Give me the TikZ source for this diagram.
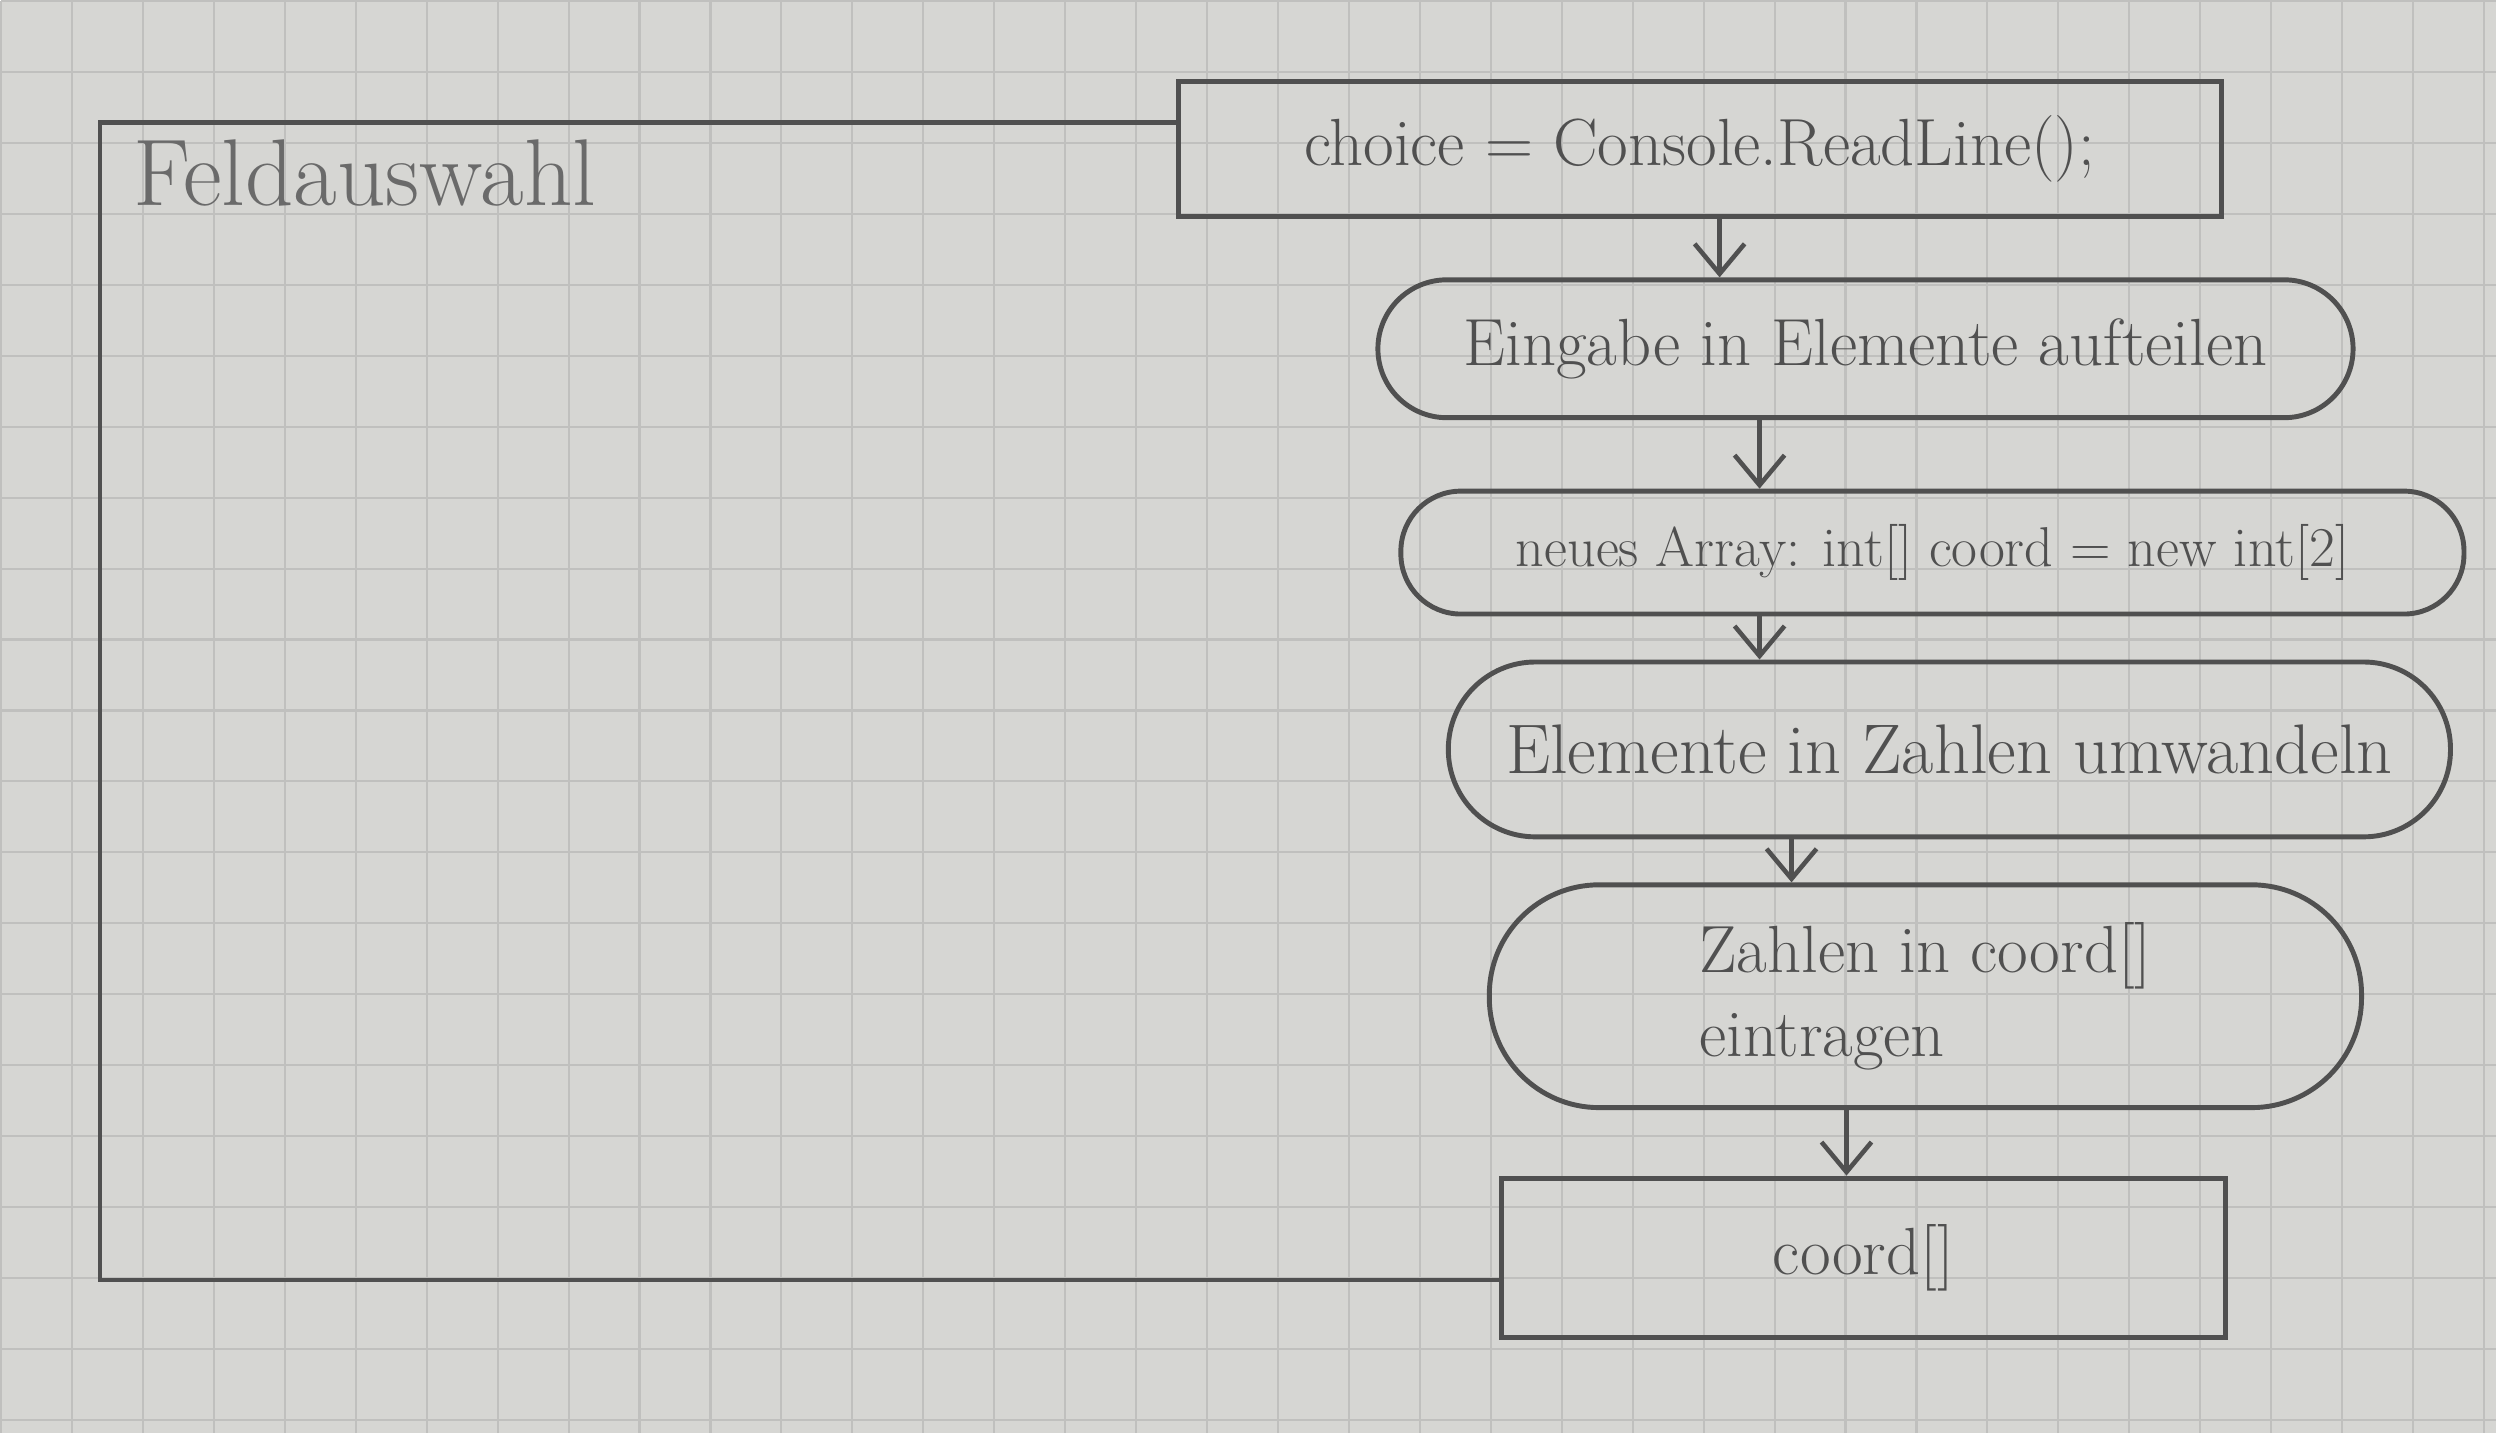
\documentclass[tikz,border=0pt]{standalone}
\usetikzlibrary{arrows.meta}
\definecolor{paper}{RGB}{214,214,211}
\definecolor{gridline}{RGB}{192,192,190}
\definecolor{pencil}{RGB}{80,80,80}
\begin{document}
\begin{tikzpicture}[proc/.style={draw=pencil, line width=1.4pt, text=pencil, inner sep=0pt, font=\fontsize{19}{24}\selectfont},
	act/.style={proc},
	flow/.style={draw=pencil, line width=1.3pt, -{Straight Barb[length=3mm,width=5mm]}},
	frame/.style={draw=pencil, line width=1.4pt}]
	% paper
	\fill[paper] (0,0) rectangle (24.97,-14.33);
	\draw[gridline, line width=0.6pt, step=0.71] (0,0) grid (24.97,-14.33);
	\useasboundingbox (0,0) rectangle (24.97,-14.33);

	\node[proc, minimum width=10.44cm, minimum height=1.35cm] at (17.0,-1.48) (choice) {choice = Console.ReadLine();};
	\node[act, rounded corners=6.9mm, minimum width=9.76cm, minimum height=1.38cm] at (18.66,-3.48) (split) {Eingabe in Elemente aufteilen};
	\node[act, rounded corners=6mm, minimum width=10.64cm, minimum height=1.23cm, font=\fontsize{16}{20}\selectfont] at (19.33,-5.52) (array) {neues Array: int[] coord = new int[2]};
	\node[act, rounded corners=8.7mm, minimum width=10.03cm, minimum height=1.75cm, font=\fontsize{20}{24}\selectfont] at (19.5,-7.49) (convert) {Elemente in Zahlen umwandeln};
	\node[act, rounded corners=11mm, minimum width=8.73cm, minimum height=2.23cm, align=left] at (19.26,-9.96) (fill) {Zahlen in coord[]\\eintragen};
	\node[proc, minimum width=7.24cm, minimum height=1.6cm] at (18.64,-12.58) (coord) {coord[]};

	\draw[flow] (17.2,0 |- choice.south) -- (17.2,0 |- split.north);
	\draw[flow] (17.6,0 |- split.south) -- (17.6,0 |- array.north);
	\draw[flow] (17.6,0 |- array.south) -- (17.6,0 |- convert.north);
	\draw[flow] (17.92,0 |- convert.south) -- (17.92,0 |- fill.north);
	\draw[flow] (18.47,0 |- fill.south) -- (18.47,0 |- coord.north);

	% Feldauswahl frame
	\coordinate (frametl) at (0.99,-1.22);
	\coordinate (framebl) at (0.99,-12.8);
	\draw[frame] (choice.west |- frametl) -- (frametl) -- (framebl) -- (coord.west |- framebl);
	\node[anchor=west, text=pencil!85, font=\fontsize{27}{32}\selectfont] at (1.2,-1.72) (title) {Feldauswahl};
\end{tikzpicture}
\end{document}
